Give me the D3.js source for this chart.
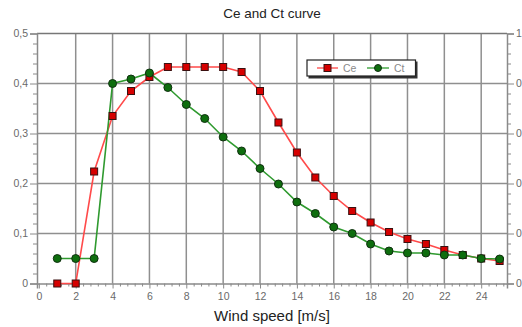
<!DOCTYPE html>
<html>
<head>
<meta charset="utf-8">
<script src="https://cdn.jsdelivr.net/npm/d3@7"></script>
<style>
  html, body { margin: 0; padding: 0; background: #fff; }
  svg { display: block; font-family: "Liberation Sans", Arial, sans-serif; }
</style>
</head>
<body>
<svg id="chart" width="522" height="327"></svg>
<script>
// Wind speed [m/s]
const windSpeed = [1, 2, 3, 4, 5, 6, 7, 8, 9, 10, 11, 12, 13, 14, 15, 16, 17, 18, 19, 20, 21, 22, 23, 24, 25];
// Power coefficient
const ce = [0, 0, 0.224, 0.335, 0.385, 0.413, 0.433, 0.433, 0.433, 0.433, 0.423, 0.385, 0.322, 0.262,
            0.212, 0.175, 0.145, 0.122, 0.103, 0.089, 0.079, 0.067, 0.057, 0.050, 0.045];
// Thrust coefficient
const ct = [0.05, 0.05, 0.05, 0.40, 0.409, 0.421, 0.392, 0.358, 0.330, 0.293, 0.265, 0.230, 0.199, 0.163,
            0.140, 0.113, 0.100, 0.079, 0.065, 0.061, 0.061, 0.057, 0.057, 0.050, 0.049];
const xTicks = [0, 2, 4, 6, 8, 10, 12, 14, 16, 18, 20, 22, 24];
const yTicks = [0, 0.1, 0.2, 0.3, 0.4, 0.5];
const yRightTicks = [0, 0.2, 0.4, 0.6, 0.8, 1];
const seriesNames = ["Ce", "Ct"];

const svg = d3.select("#chart");
const plotLeft = 37, plotRight = 507, plotTop = 33.5, plotBottom = 283.5;

const x = d3.scaleLinear().domain([-0.1, 25.4]).range([plotLeft, plotRight]);
const y = d3.scaleLinear().domain([0, 0.5]).range([plotBottom, plotTop]);
const yR = d3.scaleLinear().domain([0, 1]).range([plotBottom, plotTop]);

const gridColor = "#8f8f8f";
const labelColor = "#6a6a6a";
const fmt = d => d === 0 ? "0" : (d === 1 ? "1" : d3.format(".1f")(d).replace(".", ","));

// Grid
const grid = svg.append("g");
grid.selectAll(".vg").data(xTicks.filter(d => d > 0)).enter().append("line")
  .attr("x1", d => x(d)).attr("x2", d => x(d)).attr("y1", plotTop).attr("y2", plotBottom)
  .attr("stroke", gridColor).attr("stroke-width", 1.5);
grid.selectAll(".hg").data(yTicks.filter(d => d > 0)).enter().append("line")
  .attr("x1", plotLeft).attr("x2", plotRight).attr("y1", d => y(d)).attr("y2", d => y(d))
  .attr("stroke", d => d === 0.5 ? "#777" : gridColor).attr("stroke-width", 1.5);

// Axes
const axisColor = "#8a8a8a";
const xAxis = svg.append("g").attr("transform", `translate(0,${plotBottom})`)
  .call(d3.axisBottom(x).tickValues(xTicks).tickSize(5).tickPadding(4).tickFormat(d3.format("d")));
const xMinor = svg.append("g").attr("transform", `translate(0,${plotBottom})`)
  .call(d3.axisBottom(x).tickValues(d3.range(0, 25.3, 0.4).filter(v => Math.abs(v / 2 - Math.round(v / 2)) > 0.01)).tickSize(3).tickFormat(""));
const yAxis = svg.append("g").attr("transform", `translate(${plotLeft},0)`)
  .call(d3.axisLeft(y).tickValues(yTicks).tickSize(7).tickPadding(2).tickFormat(fmt));
const yMinor = svg.append("g").attr("transform", `translate(${plotLeft},0)`)
  .call(d3.axisLeft(y).tickValues(d3.range(0, 0.5, 0.02).filter(v => Math.abs(v * 10 - Math.round(v * 10)) > 0.01)).tickSize(4).tickFormat(""));
const yRAxis = svg.append("g").attr("transform", `translate(${plotRight},0)`)
  .call(d3.axisRight(yR).tickValues(yRightTicks).tickSize(7).tickPadding(2).tickFormat(fmt));
const yRMinor = svg.append("g").attr("transform", `translate(${plotRight},0)`)
  .call(d3.axisRight(yR).tickValues(d3.range(0, 1, 0.04).filter(v => Math.abs(v * 5 - Math.round(v * 5)) > 0.01)).tickSize(4).tickFormat(""));

[xAxis, xMinor, yAxis, yMinor, yRAxis, yRMinor].forEach(g => {
  g.select(".domain").attr("stroke", axisColor).attr("stroke-width", 1.5);
  g.selectAll(".tick line").attr("stroke", axisColor).attr("stroke-width", 1);
  g.selectAll(".tick text").attr("fill", labelColor).attr("font-size", 10.5)
    .attr("font-family", "'Liberation Sans', Arial, sans-serif");
});
xMinor.select(".domain").remove();
yMinor.select(".domain").remove();
yRMinor.select(".domain").remove();

// Series
const ceData = windSpeed.map((w, i) => [w, ce[i]]);
const ctData = windSpeed.map((w, i) => [w, ct[i]]);
const line = d3.line().x(d => x(d[0])).y(d => y(d[1]));

svg.append("path").datum(ceData).attr("d", line)
  .attr("fill", "none").attr("stroke", "#ff4a4a").attr("stroke-width", 1.6);
svg.append("path").datum(ctData).attr("d", line)
  .attr("fill", "none").attr("stroke", "#2f9a2f").attr("stroke-width", 1.6);

svg.append("g").selectAll("rect").data(ceData).enter().append("rect")
  .attr("x", d => x(d[0]) - 3.5).attr("y", d => y(d[1]) - 3.5)
  .attr("width", 7).attr("height", 7)
  .attr("fill", "#d60000").attr("stroke", "#3a1010").attr("stroke-width", 1);
svg.append("g").selectAll("circle").data(ctData).enter().append("circle")
  .attr("cx", d => x(d[0])).attr("cy", d => y(d[1])).attr("r", 4)
  .attr("fill", "#0e6e0e").attr("stroke", "#103010").attr("stroke-width", 1);

// Legend
const lg = svg.append("g").attr("transform", "translate(307,60)");
lg.append("rect").attr("x", 1.5).attr("y", 1.5).attr("width", 109).attr("height", 17).attr("fill", "#333");
lg.append("rect").attr("x", 0).attr("y", 0).attr("width", 108.5).attr("height", 16)
  .attr("fill", "#fff").attr("stroke", "#222").attr("stroke-width", 1.2);
lg.append("line").attr("x1", 10).attr("x2", 31).attr("y1", 8).attr("y2", 8)
  .attr("stroke", "#ff6a6a").attr("stroke-width", 1.6);
lg.append("rect").attr("x", 17).attr("y", 4.5).attr("width", 7).attr("height", 7)
  .attr("fill", "#d60000").attr("stroke", "#3a1010");
lg.append("text").attr("x", 36).attr("y", 12).attr("font-size", 10.5).attr("fill", "#8a8a8a").text(seriesNames[0]);
lg.append("line").attr("x1", 60).attr("x2", 82).attr("y1", 8).attr("y2", 8)
  .attr("stroke", "#55b055").attr("stroke-width", 1.6);
lg.append("circle").attr("cx", 71).attr("cy", 8).attr("r", 3.5)
  .attr("fill", "#0e6e0e").attr("stroke", "#103010");
lg.append("text").attr("x", 87).attr("y", 12).attr("font-size", 10.5).attr("fill", "#8a8a8a").text(seriesNames[1]);

// Titles
svg.append("text").attr("x", 272).attr("y", 18).attr("text-anchor", "middle")
  .attr("font-size", 13.5).attr("fill", "#222").text("Ce and Ct curve");
svg.append("text").attr("x", 272).attr("y", 321).attr("text-anchor", "middle")
  .attr("font-size", 15).attr("fill", "#222").text("Wind speed [m/s]");
</script>
</body>
</html>
